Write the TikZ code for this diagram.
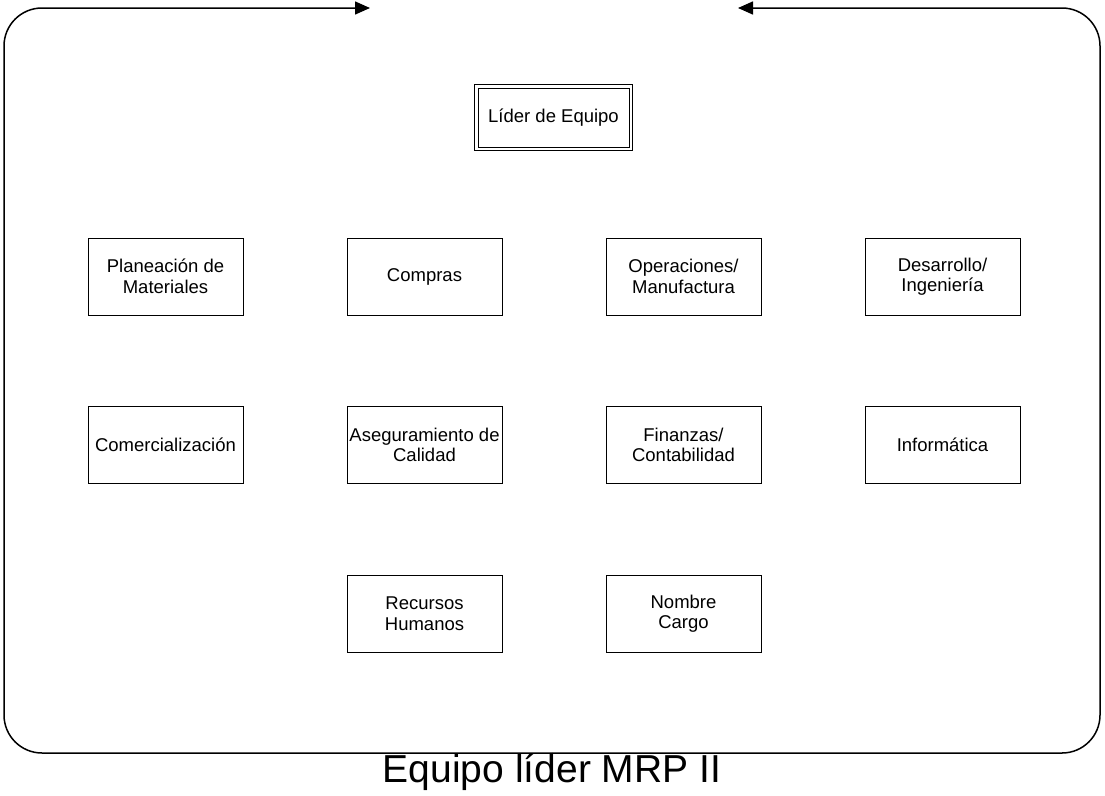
\documentclass[tikz,border=0pt]{standalone}
\usepackage{fontspec}
\setmainfont{Liberation Sans}
\usetikzlibrary{arrows.meta}

\tikzset{
    area/.style={draw, line width=1pt, minimum width=155pt, minimum height=77pt,
        align=center, inner sep=1pt, font=\fontsize{18.5}{20.5}\selectfont},
    marco/.style={line width=1.5pt, rounded corners=38pt},
    punta/.style={-{Triangle[length=15pt,width=13pt]}}
}

\begin{document}
\begin{tikzpicture}[x=1pt, y=-1pt]
    \useasboundingbox (0,0) rectangle (1105,795);
    % Outer frame with the two arrows on top
    \coordinate (abajo) at (552,753);
    \coordinate (flechaizq) at (370,8);
    \coordinate (flechader) at (738,8);
    \draw[marco, punta] (abajo) -- (4,753) -- (4,8) -- (flechaizq);
    \draw[marco, punta] (abajo) -- (1100,753) -- (1100,8) -- (flechader);
    % Team leader, double border
    \node[area, minimum width=151pt, minimum height=59pt] (lider) at (553.5,117.5) {L\'ider de Equipo};
    \draw[line width=1pt] ([shift={(-3,3)}]lider.south west) rectangle ([shift={(3,-3)}]lider.north east);
    % First row
    \node[area] (planea) at (165.5,276.5) {Planeaci\'on de\\Materiales};
    \node[area] (compras) at (424.5,276.5) {Compras};
    \node[area] (opera) at (683.5,276.5) {Operaciones/\\Manufactura};
    \node[area] (desarr) at (942.5,276.5) {Desarrollo/\\Ingenier\'ia};
    % Second row
    \node[area] (comerc) at (165.5,445) {Comercializaci\'on};
    \node[area] (asegur) at (424.5,445) {Aseguramiento de\\Calidad};
    \node[area] (finanz) at (683.5,445) {Finanzas/\\Contabilidad};
    \node[area] (inform) at (942.5,445) {Inform\'atica};
    % Third row
    \node[area] (rrhh) at (424.5,613.5) {Recursos\\Humanos};
    \node[area] (nombre) at (683.5,613.5) {Nombre\\Cargo};
    % Caption
    \node[font=\fontsize{39}{43}\selectfont] (titulo) at (552,772) {Equipo l\'ider MRP II};
\end{tikzpicture}
\end{document}
